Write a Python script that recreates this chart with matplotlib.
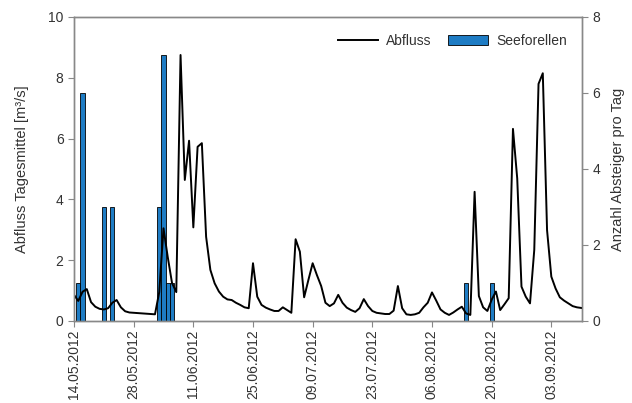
import numpy as np
import pandas as pd
import matplotlib
matplotlib.use('Agg')
import matplotlib.pyplot as plt
import matplotlib.dates as mdates

plt.rcParams['font.family'] = ['Liberation Sans', 'DejaVu Sans']

# Tagesmittel Abfluss ab 14.05.2012 (m3/s)
abfluss = [0.86, 0.66, 0.96, 1.05, 0.62, 0.47, 0.40, 0.38, 0.42, 0.60,
           0.69, 0.45, 0.32, 0.28, 0.27, 0.26, 0.25, 0.24, 0.23, 0.22,
           0.95, 3.05, 2.10, 1.25, 0.95, 8.75, 4.64, 5.93, 3.08, 5.73,
           5.85, 2.77, 1.68, 1.24, 0.97, 0.80, 0.71, 0.69, 0.60, 0.53,
           0.45, 0.42, 1.90, 0.80, 0.53, 0.44, 0.38, 0.33, 0.33, 0.45,
           0.36, 0.27, 2.69, 2.28, 0.78, 1.35, 1.90, 1.51, 1.15, 0.60,
           0.49, 0.58, 0.86, 0.60, 0.44, 0.36, 0.30, 0.42, 0.72, 0.49,
           0.33, 0.27, 0.25, 0.23, 0.23, 0.34, 1.15, 0.42, 0.22, 0.20,
           0.22, 0.27, 0.45, 0.60, 0.94, 0.67, 0.38, 0.27, 0.20, 0.28,
           0.38, 0.47, 0.25, 0.20, 4.25, 0.82, 0.45, 0.33, 0.70, 0.97,
           0.36, 0.55, 0.75, 6.32, 4.69, 1.13, 0.80, 0.58, 2.34, 7.80,
           8.15, 2.99, 1.46, 1.07, 0.78, 0.67, 0.58, 0.49, 0.45, 0.43]
tage = pd.date_range('2012-05-14', periods=len(abfluss), freq='D')

# Seeforellen (Absteiger pro Tag)
fisch_datum = pd.to_datetime(['2012-05-15', '2012-05-16', '2012-05-21', '2012-05-23',
                              '2012-06-03', '2012-06-04', '2012-06-05', '2012-06-06',
                              '2012-08-14', '2012-08-20'])
fisch_anzahl = [1, 6, 3, 3, 3, 7, 1, 1, 1, 1]

ticks = pd.date_range('2012-05-14', '2012-09-03', freq='14D')

fig = plt.figure(figsize=(6.32, 4.03), dpi=100)
ax = fig.add_axes([74/632, 1-321/403, 508/632, 304/403])
ax2 = ax.twinx()

txt = '#333333'
spine = '#888888'

ax2.bar(fisch_datum, fisch_anzahl, width=1.0, color='#1e7cc4', edgecolor='black',
        linewidth=0.6, label='Seeforellen')
ax.plot(tage, abfluss, color='black', linewidth=1.4, label='Abfluss')

# Linie ueber die Balken legen
ax.set_zorder(ax2.get_zorder() + 1)
ax.patch.set_visible(False)

ax.set_xlim(tage[0], tage[0] + pd.Timedelta(days=119.2))
ax.set_ylim(0, 10)
ax2.set_ylim(0, 8)
ax.set_yticks(np.arange(0, 11, 2))
ax2.set_yticks(np.arange(0, 9, 2))
ax.set_xticks(ticks)
ax.xaxis.set_major_formatter(mdates.DateFormatter('%d.%m.%Y'))
plt.setp(ax.get_xticklabels(), rotation=90)

for a in (ax, ax2):
    for s in a.spines.values():
        s.set_color(spine)
        s.set_linewidth(1.0)
    a.tick_params(colors=spine, labelcolor=txt, labelsize=10, length=4, width=0.8)
ax.tick_params(axis='x', pad=2)

ax.set_ylabel('Abfluss Tagesmittel [m³/s]', color=txt, fontsize=10.5, labelpad=14)
ax2.set_ylabel('Anzahl Absteiger pro Tag', color=txt, fontsize=10.5, labelpad=8)

h1, l1 = ax.get_legend_handles_labels()
h2, l2 = ax2.get_legend_handles_labels()
leg = ax.legend(h1 + h2, l1 + l2, loc='upper right', ncol=2, frameon=False,
                fontsize=10, handlelength=2.9, handletextpad=0.6, columnspacing=1.15,
                bbox_to_anchor=(0.995, 0.985))
for t in leg.get_texts():
    t.set_color(txt)

fig.savefig('out.png', dpi=100)
